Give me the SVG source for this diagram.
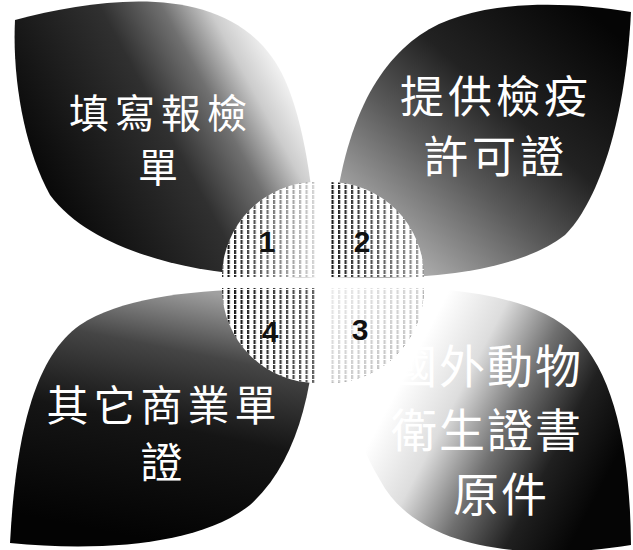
<svg xmlns="http://www.w3.org/2000/svg" width="633" height="550" viewBox="0 0 633 550">
<style>
.lbl{font-family:"Noto Sans CJK TC","Noto Sans CJK SC",sans-serif;fill:#ffffff;text-anchor:middle}
.num{font-family:"Liberation Sans",Arial,sans-serif;font-weight:bold;font-size:30px;fill:#111;text-anchor:middle}
.pie{fill:#ffffff}
.str{fill:url(#vstripe)}
</style>
<defs>
<pattern id="vstripe" patternUnits="userSpaceOnUse" width="6.5" height="5">
<rect x="0" y="0" width="2.2" height="4" fill="#0c0c0c"/>
</pattern>
<linearGradient id="gTL" gradientUnits="userSpaceOnUse" x1="60" y1="220" x2="300" y2="90">
<stop offset="0" stop-color="#080808"/><stop offset="0.5" stop-color="#303030"/><stop offset="0.7" stop-color="#707070"/><stop offset="0.85" stop-color="#cccccc"/><stop offset="1" stop-color="#fafafa"/>
</linearGradient>
<linearGradient id="gTR" gradientUnits="userSpaceOnUse" x1="600" y1="20" x2="390" y2="260">
<stop offset="0" stop-color="#050505"/><stop offset="0.4" stop-color="#222"/><stop offset="0.65" stop-color="#5a5a5a"/><stop offset="1" stop-color="#b4b4b4"/>
</linearGradient>
<linearGradient id="gBL" gradientUnits="userSpaceOnUse" x1="150" y1="540" x2="200" y2="290">
<stop offset="0" stop-color="#030303"/><stop offset="0.45" stop-color="#151515"/><stop offset="0.75" stop-color="#454545"/><stop offset="1" stop-color="#a0a0a0"/>
</linearGradient>
<linearGradient id="gBR" gradientUnits="userSpaceOnUse" x1="610" y1="470" x2="410" y2="365">
<stop offset="0" stop-color="#050505"/><stop offset="0.25" stop-color="#202020"/><stop offset="0.5" stop-color="#707070"/><stop offset="0.75" stop-color="#dddddd"/><stop offset="1" stop-color="#ffffff"/>
</linearGradient>
<linearGradient id="f1" gradientUnits="userSpaceOnUse" x1="222" y1="0" x2="317" y2="0">
<stop offset="0" stop-color="#fff" stop-opacity="0"/><stop offset="1" stop-color="#fff" stop-opacity="0.85"/>
</linearGradient>
<linearGradient id="f2" gradientUnits="userSpaceOnUse" x1="329" y1="0" x2="424" y2="0">
<stop offset="0" stop-color="#fff" stop-opacity="0.05"/><stop offset="1" stop-color="#fff" stop-opacity="0.6"/>
</linearGradient>
<linearGradient id="f3" gradientUnits="userSpaceOnUse" x1="329" y1="288" x2="424" y2="383">
<stop offset="0" stop-color="#fff" stop-opacity="0.92"/><stop offset="1" stop-color="#fff" stop-opacity="0.7"/>
</linearGradient>
<linearGradient id="f4" gradientUnits="userSpaceOnUse" x1="222" y1="0" x2="317" y2="0">
<stop offset="0" stop-color="#fff" stop-opacity="0"/><stop offset="1" stop-color="#fff" stop-opacity="0.35"/>
</linearGradient>
</defs>
<rect width="633" height="550" fill="#ffffff"/>

<g id="node-1">
<path d="M15,20 C110,-5 240,-20 285,80 C305,125 316,200 317,277 C230,280 100,262 50,195 C25,150 12,80 15,20 Z" fill="url(#gTL)"/>
<text class="lbl" font-size="40" letter-spacing="6"><tspan x="161" y="128">填寫報檢</tspan><tspan x="161" y="182">單</tspan></text>
</g>
<g id="node-2">
<path d="M631,12 C560,0 470,0 420,35 C370,70 335,140 329,277 C430,282 520,270 565,235 C595,205 625,130 631,12 Z" fill="url(#gTR)"/>
<text class="lbl" font-size="44" letter-spacing="4"><tspan x="496" y="113">提供檢疫</tspan><tspan x="496" y="173">許可證</tspan></text>
</g>
<g id="node-4">
<path d="M10,543 C15,450 30,360 80,325 C130,292 220,288 317,288 C317,380 300,460 250,505 C200,545 100,552 10,543 Z" fill="url(#gBL)"/>
<text class="lbl" font-size="42" letter-spacing="5"><tspan x="164" y="421">其它商業單</tspan><tspan x="164" y="478">證</tspan></text>
</g>
<g id="node-3">
<path d="M329,288 C430,284 530,290 575,335 C615,375 630,450 631,545 C540,560 420,555 380,480 C345,420 331,350 329,288 Z" fill="url(#gBR)"/>
<text class="lbl" font-size="46" letter-spacing="2"><tspan x="487" y="383">國外動物</tspan><tspan x="487" y="447">衛生證書</tspan><tspan x="501" y="511">原件</tspan></text>
</g>

<g id="hub">
<g id="pie-1">
<path class="pie" d="M317,277 L222,277 A95,95 0 0 1 317,182 Z"/>
<path class="str" d="M317,277 L222,277 A95,95 0 0 1 317,182 Z"/>
<path fill="url(#f1)" d="M317,277 L222,277 A95,95 0 0 1 317,182 Z"/>
<text class="num" x="267" y="252">1</text>
</g>
<g id="pie-2">
<path class="pie" d="M329,277 L329,182 A95,95 0 0 1 424,277 Z"/>
<path class="str" d="M329,277 L329,182 A95,95 0 0 1 424,277 Z"/>
<path fill="url(#f2)" d="M329,277 L329,182 A95,95 0 0 1 424,277 Z"/>
<text class="num" x="362" y="252">2</text>
</g>
<g id="pie-3">
<path class="pie" d="M329,288 L424,288 A95,95 0 0 1 329,383 Z"/>
<path class="str" d="M329,288 L424,288 A95,95 0 0 1 329,383 Z"/>
<path fill="url(#f3)" d="M329,288 L424,288 A95,95 0 0 1 329,383 Z"/>
<text class="num" x="360" y="340">3</text>
</g>
<g id="pie-4">
<path class="pie" d="M317,288 L317,383 A95,95 0 0 1 222,288 Z"/>
<path class="str" d="M317,288 L317,383 A95,95 0 0 1 222,288 Z"/>
<path fill="url(#f4)" d="M317,288 L317,383 A95,95 0 0 1 222,288 Z"/>
<text class="num" x="270" y="342">4</text>
</g>
</g>
<g id="connectors"/>
</svg>
